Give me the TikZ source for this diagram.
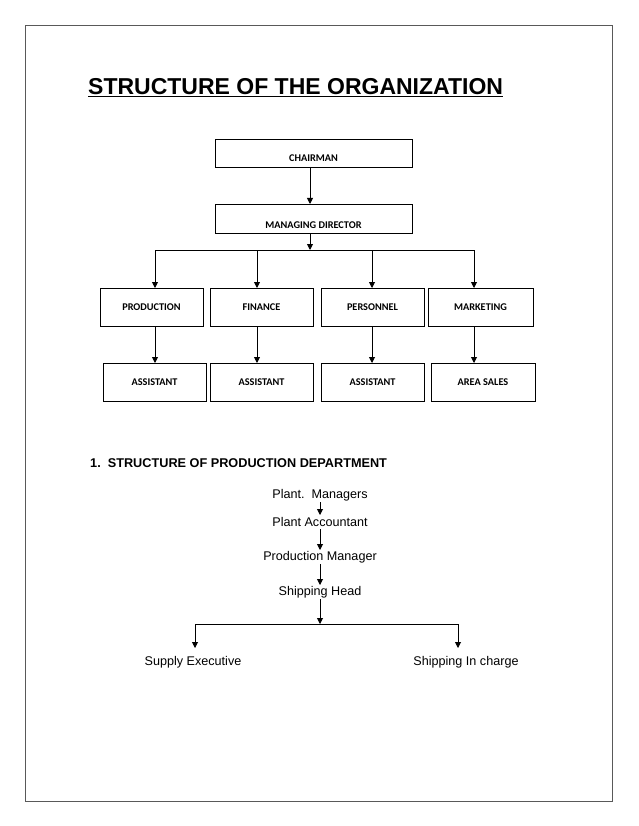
\documentclass[tikz,border=0pt]{standalone}
\usepackage{fontspec}
\setmainfont{Liberation Sans}
\newfontfamily\calfont{Carlito}
\usetikzlibrary{arrows.meta}
\begin{document}
\begin{tikzpicture}[x=1pt,y=-1pt,
  box/.style={draw,line width=0.8pt,inner sep=0pt,font=\calfont\bfseries\fontsize{10.3}{11}\selectfont},
  lbl/.style={inner sep=1pt,font=\fontsize{12.6}{14}\selectfont},
  arr/.style={-{Triangle[length=6pt,width=6pt]},line width=0.9pt}]
\useasboundingbox (0,0) rectangle (638,826);
\draw[line width=0.5pt,gray!70!black] (25,25) rectangle (612,801);
\node[anchor=west,font=\bfseries\fontsize{23}{26}\selectfont,inner sep=0pt] (title) at (88,88) {\underline{STRUCTURE OF THE ORGANIZATION}};
% boxes
\node[box,minimum width=197pt,minimum height=28pt] (ch) at (313.5,153) {\raisebox{-9pt}[0pt][0pt]{CHAIRMAN}};
\node[box,minimum width=197pt,minimum height=29pt] (md) at (313.5,218.5) {\raisebox{-10pt}[0pt][0pt]{MANAGING DIRECTOR}};
\node[box,minimum width=103pt,minimum height=38pt] (p1) at (151.5,307) {PRODUCTION};
\node[box,minimum width=103pt,minimum height=38pt] (p2) at (261.5,307) {FINANCE};
\node[box,minimum width=103pt,minimum height=38pt] (p3) at (372.5,307) {PERSONNEL};
\node[box,minimum width=105pt,minimum height=38pt] (p4) at (480.5,307) {MARKETING};
\node[box,minimum width=103pt,minimum height=38pt] (a1) at (154.5,382) {ASSISTANT};
\node[box,minimum width=103pt,minimum height=38pt] (a2) at (261.5,382) {ASSISTANT};
\node[box,minimum width=103pt,minimum height=38pt] (a3) at (372.5,382) {ASSISTANT};
\node[box,minimum width=104pt,minimum height=38pt] (a4) at (483,382) {AREA SALES};
\coordinate (bus) at (310,250);
\draw[arr] (310,167) -- (310,204);
\draw[arr] (310,233) -- (bus);
\draw[line width=0.9pt] (155,250) -- (474,250);
\foreach \x in {155,257,372,474}{\draw[arr] (\x,250) -- (\x,288);}
\foreach \x in {155,257,372,474}{\draw[arr] (\x,326) -- (\x,363);}
% section 1
\node[anchor=west,font=\bfseries\fontsize{12.7}{14}\selectfont,inner sep=0pt] (h1) at (90,463) {1.\ \ STRUCTURE OF PRODUCTION DEPARTMENT};
\node[lbl] (t1) at (320,495) {Plant.\ \ Managers};
\node[lbl] (t2) at (320,522) {Plant Accountant};
\node[lbl] (t3) at (320,557) {Production Manager};
\node[lbl] (t4) at (320,592) {Shipping Head};
\node[lbl] (t5) at (193,662) {Supply Executive};
\node[lbl] (t6) at (466,662) {Shipping In charge};
\coordinate (bus2) at (320,624);
\draw[arr] (320,502) -- (320,515);
\draw[arr] (320,529) -- (320,550);
\draw[arr] (320,564) -- (320,585);
\draw[arr] (320,599) -- (bus2);
\draw[line width=0.9pt] (195,624) -- (458,624);
\draw[arr] (195,624) -- (195,648);
\draw[arr] (458,624) -- (458,648);
\end{tikzpicture}
\end{document}
